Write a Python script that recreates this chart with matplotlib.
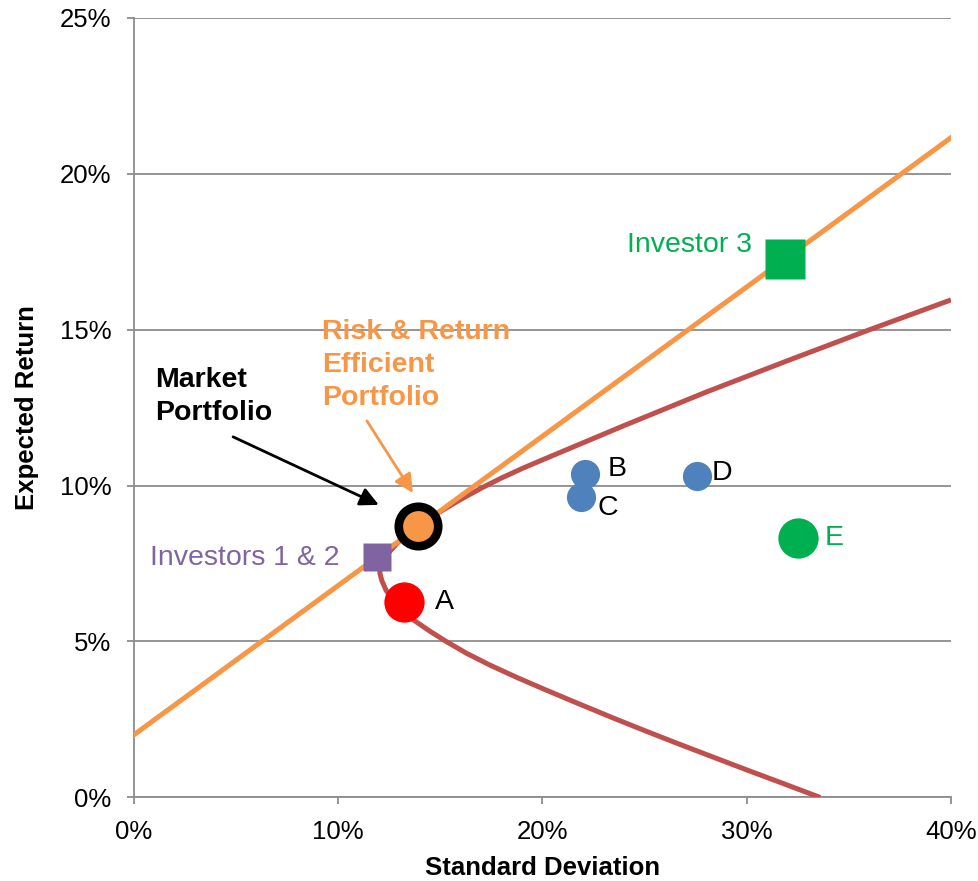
import matplotlib.pyplot as plt
from matplotlib.ticker import FuncFormatter

plt.rcParams["font.family"] = ["Liberation Sans", "DejaVu Sans"]

# efficient frontier (standard deviation %, expected return %), upper branch first
frontier_sd = [40.0, 36.0, 32.0, 28.0, 24.0, 20.0, 19.0, 18.0, 17.0, 16.0, 15.2,
               14.5, 13.92, 13.4, 12.9, 12.35, 12.1, 12.05, 12.15, 12.35, 12.7,
               13.2, 13.7, 14.5, 15.3, 16.3, 17.45, 18.8, 20.2, 21.8, 23.5,
               25.1, 26.7, 28.3, 30.0, 31.8, 33.6]
frontier_ret = [15.95, 14.99, 14.0, 12.99, 11.92, 10.82, 10.54, 10.24, 9.91, 9.55, 9.24,
                8.96, 8.70, 8.45, 8.15, 7.75, 7.45, 7.2, 6.95, 6.65, 6.3,
                6.0, 5.69, 5.33, 5.0, 4.62, 4.24, 3.835, 3.44, 3.0, 2.54,
                2.12, 1.71, 1.31, 0.885, 0.445, 0.0]

# capital market line
cml_sd = [0.0, 40.0]
cml_ret = [2.0, 21.15]

market = (13.92, 8.70)
investors_12 = (11.93, 7.71)
investor_3 = (31.87, 17.26)

asset_names = ["A", "B", "C", "D", "E"]
asset_sd = [13.23, 22.09, 21.89, 27.56, 32.5]
asset_ret = [6.27, 10.37, 9.64, 10.30, 8.32]
asset_colors = ["#FF0000", "#4F81BD", "#4F81BD", "#4F81BD", "#00B050"]
asset_sizes = [29, 21, 21, 21, 29]

ORANGE = "#F79646"
RED = "#C0504D"
GREEN = "#00B050"
PURPLE = "#8064A2"
GRID = "#8C8C8C"

fig = plt.figure(figsize=(9.79, 8.81), dpi=100)
ax = fig.add_axes([0.1364, 0.0948, 0.8350, 0.8853])

ax.plot(frontier_sd, frontier_ret, color=RED, lw=3.6, zorder=3,
        solid_capstyle="butt", solid_joinstyle="round")
ax.plot(cml_sd, cml_ret, color=ORANGE, lw=3.6, zorder=4)

# individual assets
for name, sd, ret, c, s in zip(asset_names, asset_sd, asset_ret, asset_colors, asset_sizes):
    ax.plot(sd, ret, "o", color=c, ms=s, mec="none", zorder=5)

ax.plot(*investors_12, "s", color=PURPLE, ms=19.5, mec="none", zorder=5)
ax.plot(*investor_3, "s", color=GREEN, ms=29, mec="none", zorder=5)
ax.plot(*market, "o", color=ORANGE, ms=28.4, mec="black", mew=6.2, zorder=6)

lbl = dict(fontsize=20.5, va="center")
ax.text(14.75, 6.27, "A", color="black", ha="left", **lbl)
ax.text(23.2, 10.52, "B", color="black", ha="left", **lbl)
ax.text(22.68, 9.28, "C", color="black", ha="left", **lbl)
ax.text(28.3, 10.4, "D", color="black", ha="left", **lbl)
ax.text(33.8, 8.32, "E", color=GREEN, ha="left", **lbl)
ax.text(30.26, 17.71, "Investor 3", color=GREEN, ha="right", **lbl)
ax.text(10.1, 7.69, "Investors 1 & 2", color=PURPLE, ha="right", **lbl)

ax.text(1.05, 12.85, "Market\nPortfolio", fontsize=20.5, fontweight="bold",
        color="black", ha="left", va="center", linespacing=1.32, zorder=7)
ax.annotate("", xy=(12.0, 9.38), xytext=(4.87, 11.56),
            arrowprops=dict(arrowstyle="-|>", color="black", lw=2,
                            mutation_scale=28, shrinkA=0, shrinkB=0))
ax.text(9.22, 13.85, "Risk & Return\nEfficient\nPortfolio", fontsize=20.5,
        fontweight="bold", color=ORANGE, ha="left", va="center",
        linespacing=1.35, zorder=7)
ax.annotate("", xy=(13.67, 9.76), xytext=(11.42, 12.07),
            arrowprops=dict(arrowstyle="-|>", color=ORANGE, lw=2,
                            mutation_scale=28, shrinkA=0, shrinkB=0))

ax.set_xlim(0, 40)
ax.set_ylim(0, 25)
ax.set_xticks(range(0, 41, 10))
ax.set_yticks(range(0, 26, 5))
pct = FuncFormatter(lambda v, _: f"{v:.0f}%")
ax.xaxis.set_major_formatter(pct)
ax.yaxis.set_major_formatter(pct)

ax.grid(axis="y", color=GRID, lw=1.3, zorder=0)
ax.set_axisbelow(True)
for side in ("top", "right"):
    ax.spines[side].set_visible(False)
for side in ("left", "bottom"):
    ax.spines[side].set_color(GRID)
    ax.spines[side].set_linewidth(1.3)
ax.tick_params(direction="out", length=5, width=1.3, color=GRID,
               labelsize=18.5, pad=11)

ax.set_xlabel("Standard Deviation", fontsize=18.5, fontweight="bold", labelpad=9)
ax.set_ylabel("Expected Return", fontsize=18.5, fontweight="bold", labelpad=15)

fig.savefig("out.png", dpi=100)
